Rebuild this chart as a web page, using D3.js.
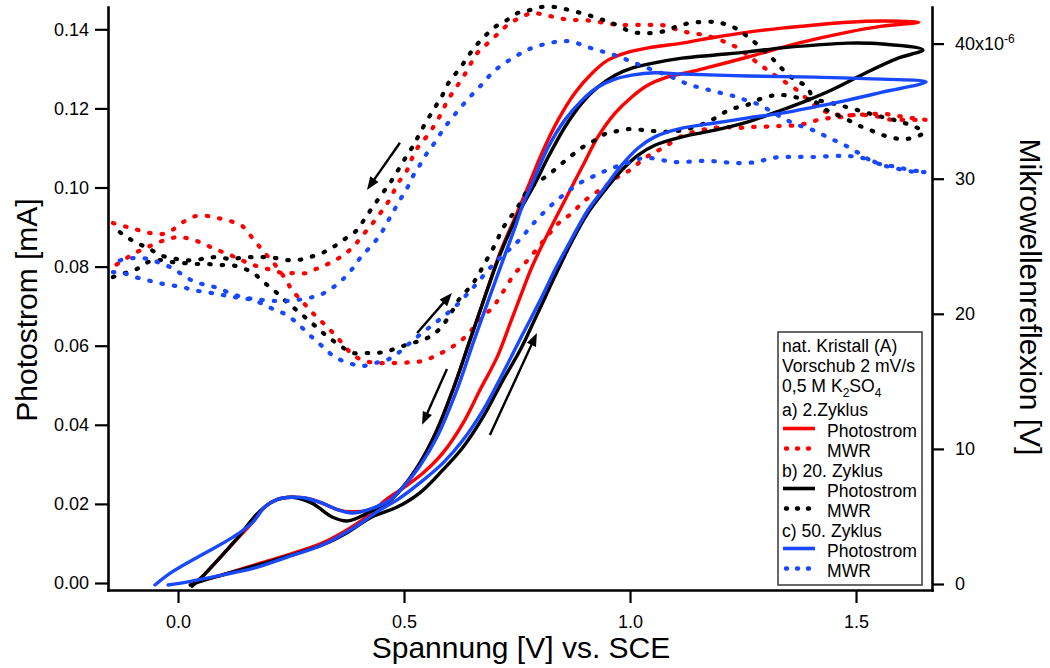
<!DOCTYPE html>
<html>
<head>
<meta charset="utf-8">
<script src="https://cdn.jsdelivr.net/npm/d3@7"></script>
<style>
  html, body { margin: 0; padding: 0; background: #fff; }
  svg { display: block; }
  text { font-family: "Liberation Sans", Arial, Helvetica, sans-serif; fill: #000; }
</style>
</head>
<body>
<svg id="chart" width="1050" height="668"></svg>
<script>
// ---- Photostrom [mA] vs. Spannung [V]: one closed scan per cycle (forward, then back) ----
const photoZ2 = [
  [0.029,0.0000],[0.097,0.0020],[0.170,0.0046],[0.243,0.0071],[0.319,0.0101],[0.369,0.0131],[0.407,0.0159],[0.436,0.0187],[0.462,0.0212],[0.498,0.0240],[0.542,0.0278],[0.586,0.0329],[0.631,0.0405],[0.668,0.0488],[0.706,0.0571],[0.735,0.0657],[0.763,0.0741],[0.783,0.0799],[0.819,0.0885],[0.856,0.0968],[0.894,0.1052],[0.929,0.1128],[0.967,0.1188],[1.004,0.1229],[1.040,0.1259],[1.077,0.1277],[1.150,0.1297],[1.261,0.1330],[1.372,0.1365],[1.482,0.1393],[1.558,0.1408],[1.639,0.1418],
  [1.558,0.1421],[1.482,0.1418],[1.409,0.1411],[1.336,0.1403],[1.261,0.1393],[1.188,0.1380],[1.115,0.1365],[1.040,0.1353],[0.989,0.1340],[0.951,0.1322],[0.916,0.1289],[0.878,0.1239],[0.841,0.1171],[0.805,0.1087],[0.774,0.1001],[0.746,0.0925],[0.712,0.0834],[0.684,0.0741],[0.646,0.0614],[0.608,0.0488],[0.573,0.0387],[0.535,0.0303],[0.498,0.0243],[0.462,0.0202],[0.425,0.0185],[0.385,0.0180],[0.354,0.0185],[0.319,0.0202],[0.281,0.0215],[0.252,0.0217],[0.221,0.0212],[0.192,0.0192],[0.164,0.0152],[0.133,0.0114],[0.088,0.0058],[0.053,0.0015],[0.031,-0.0005]
];
const photoZ20 = [
  [0.027,-0.0005],[0.060,0.0008],[0.097,0.0020],[0.170,0.0043],[0.243,0.0068],[0.319,0.0096],[0.369,0.0124],[0.429,0.0167],[0.485,0.0192],[0.535,0.0228],[0.586,0.0286],[0.631,0.0344],[0.675,0.0420],[0.719,0.0513],[0.757,0.0589],[0.790,0.0668],[0.812,0.0722],[0.834,0.0776],[0.872,0.0865],[0.907,0.0936],[0.945,0.0994],[0.982,0.1044],[1.018,0.1082],[1.055,0.1107],[1.115,0.1128],[1.188,0.1145],[1.261,0.1166],[1.336,0.1196],[1.394,0.1221],[1.447,0.1247],[1.520,0.1289],[1.593,0.1327],[1.648,0.1348],
  [1.558,0.1363],[1.482,0.1365],[1.409,0.1360],[1.336,0.1353],[1.261,0.1343],[1.188,0.1335],[1.115,0.1327],[1.040,0.1312],[1.004,0.1302],[0.967,0.1284],[0.929,0.1254],[0.894,0.1214],[0.856,0.1153],[0.819,0.1077],[0.790,0.1011],[0.761,0.0951],[0.746,0.0918],[0.712,0.0829],[0.684,0.0741],[0.646,0.0614],[0.608,0.0488],[0.573,0.0387],[0.535,0.0303],[0.498,0.0243],[0.462,0.0202],[0.425,0.0180],[0.376,0.0157],[0.341,0.0167],[0.296,0.0202],[0.252,0.0217],[0.208,0.0205],[0.177,0.0177],[0.133,0.0116],[0.088,0.0058],[0.053,0.0015],[0.031,-0.0008]
];
const photoZ50 = [
  [-0.022,-0.0005],[0.022,0.0003],[0.097,0.0020],[0.170,0.0038],[0.243,0.0066],[0.319,0.0096],[0.392,0.0142],[0.440,0.0180],[0.485,0.0210],[0.535,0.0253],[0.586,0.0303],[0.631,0.0362],[0.675,0.0437],[0.719,0.0531],[0.763,0.0630],[0.801,0.0714],[0.834,0.0792],[0.872,0.0873],[0.907,0.0943],[0.945,0.1001],[0.982,0.1057],[1.018,0.1100],[1.055,0.1128],[1.115,0.1150],[1.188,0.1163],[1.261,0.1176],[1.336,0.1188],[1.409,0.1204],[1.482,0.1221],[1.558,0.1241],[1.655,0.1267],
  [1.558,0.1274],[1.409,0.1279],[1.261,0.1282],[1.115,0.1287],[1.055,0.1290],[1.004,0.1284],[0.967,0.1274],[0.929,0.1254],[0.894,0.1221],[0.856,0.1171],[0.819,0.1102],[0.790,0.1027],[0.761,0.0951],[0.746,0.0900],[0.723,0.0829],[0.695,0.0741],[0.653,0.0607],[0.617,0.0488],[0.573,0.0369],[0.535,0.0296],[0.502,0.0248],[0.469,0.0210],[0.420,0.0185],[0.385,0.0177],[0.354,0.0185],[0.319,0.0202],[0.281,0.0215],[0.252,0.0217],[0.221,0.0212],[0.192,0.0192],[0.164,0.0152],[0.119,0.0114],[0.060,0.0076],[-0.013,0.0028],[-0.051,-0.0005]
];

// ---- Mikrowellenreflexion (x10^-6) vs. Spannung [V] ----
const mwrZ2 = [
  [-0.144,26.72],[-0.113,26.43],[-0.088,26.20],[-0.062,25.98],[-0.035,25.91],[-0.013,26.20],[0.015,26.87],[0.040,27.24],[0.064,27.24],[0.088,27.09],[0.115,26.87],[0.142,26.50],[0.168,25.46],[0.192,24.50],[0.217,23.54],[0.239,22.50],[0.252,21.76],[0.274,20.95],[0.296,20.13],[0.321,19.32],[0.343,18.58],[0.363,17.84],[0.387,16.95],[0.414,16.51],[0.440,16.36],[0.465,16.36],[0.491,16.36],[0.518,16.43],[0.542,16.51],[0.569,16.88],[0.595,17.32],[0.622,17.91],[0.646,18.65],[0.668,19.62],[0.695,20.43],[0.712,21.24],[0.746,23.02],[0.768,23.76],[0.794,24.80],[0.819,25.83],[0.845,26.80],[0.872,27.46],[0.896,28.28],[0.923,28.94],[0.949,29.53],[0.973,30.13],[1.000,30.64],[1.027,31.38],[1.051,31.90],[1.077,32.35],[1.106,33.01],[1.133,33.38],[1.159,33.61],[1.184,33.75],[1.210,33.83],[1.237,33.75],[1.261,33.83],[1.292,33.83],[1.317,33.90],[1.343,33.90],[1.369,33.97],[1.394,34.12],[1.416,34.35],[1.442,34.49],[1.469,34.57],[1.493,34.71],[1.520,34.71],[1.553,34.57],[1.580,34.35],[1.604,34.35],[1.631,34.35],[1.655,34.35],
  [1.624,34.49],[1.593,34.64],[1.564,34.79],[1.531,34.79],[1.500,34.71],[1.469,34.71],[1.442,34.86],[1.416,35.23],[1.394,35.83],[1.369,36.57],[1.343,37.16],[1.316,37.75],[1.292,38.34],[1.265,39.01],[1.239,39.67],[1.215,40.05],[1.188,40.41],[1.162,40.64],[1.137,40.79],[1.111,40.93],[1.084,41.30],[1.060,41.38],[1.033,41.38],[1.004,41.38],[0.973,41.38],[0.945,41.53],[0.918,41.67],[0.894,41.75],[0.867,41.75],[0.841,41.90],[0.812,42.12],[0.783,42.27],[0.761,41.97],[0.735,41.53],[0.712,40.86],[0.686,40.05],[0.662,39.30],[0.646,38.42],[0.631,37.53],[0.613,36.64],[0.597,35.83],[0.584,34.94],[0.569,34.05],[0.551,33.16],[0.531,32.35],[0.518,31.53],[0.507,30.64],[0.487,29.68],[0.469,28.50],[0.451,27.61],[0.431,26.72],[0.409,25.83],[0.387,24.94],[0.363,24.28],[0.336,23.76],[0.310,23.39],[0.285,23.02],[0.259,23.02],[0.232,23.02],[0.208,23.24],[0.181,23.46],[0.155,23.76],[0.131,24.13],[0.104,24.50],[0.077,24.87],[0.053,25.24],[0.027,25.54],[0.000,25.68],[-0.029,25.46],[-0.062,25.02],[-0.091,24.57],[-0.117,24.06],[-0.144,23.46]
];
const mwrZ20 = [
  [-0.144,22.72],[-0.117,23.02],[-0.091,23.32],[-0.066,23.83],[-0.040,23.98],[-0.013,23.83],[0.011,23.76],[0.038,23.69],[0.064,23.69],[0.088,23.61],[0.115,23.61],[0.137,23.46],[0.166,23.02],[0.192,22.28],[0.219,21.54],[0.243,20.80],[0.270,20.06],[0.296,19.32],[0.321,18.58],[0.341,18.06],[0.363,17.54],[0.387,17.10],[0.414,17.10],[0.440,17.10],[0.465,17.25],[0.491,17.54],[0.518,17.84],[0.542,18.06],[0.569,18.58],[0.591,19.39],[0.608,20.28],[0.624,21.17],[0.650,22.13],[0.664,22.87],[0.679,23.76],[0.701,25.09],[0.719,26.35],[0.739,27.31],[0.757,28.20],[0.774,29.16],[0.796,29.76],[0.819,30.27],[0.845,31.01],[0.872,31.75],[0.896,32.35],[0.923,32.86],[0.949,33.38],[0.973,33.53],[1.000,33.68],[1.027,33.61],[1.051,33.53],[1.077,33.46],[1.104,33.53],[1.128,33.68],[1.155,33.97],[1.181,34.35],[1.206,34.86],[1.232,35.23],[1.259,35.46],[1.283,35.83],[1.310,36.12],[1.336,36.20],[1.376,35.97],[1.434,35.68],[1.487,35.23],[1.542,34.71],[1.593,34.27],[1.631,33.83],[1.650,33.46],
  [1.633,33.09],[1.608,32.94],[1.582,33.01],[1.558,33.24],[1.531,33.61],[1.504,33.97],[1.478,34.42],[1.453,34.79],[1.427,35.23],[1.405,35.90],[1.392,36.79],[1.365,37.31],[1.339,38.05],[1.314,38.93],[1.288,39.75],[1.261,40.49],[1.237,41.08],[1.210,41.45],[1.188,41.60],[1.159,41.60],[1.133,41.53],[1.106,41.30],[1.084,41.01],[1.055,40.79],[1.027,40.79],[1.004,40.86],[0.960,41.53],[0.934,41.82],[0.907,42.12],[0.883,42.34],[0.856,42.56],[0.834,42.71],[0.805,42.71],[0.779,42.49],[0.752,42.27],[0.728,41.75],[0.701,41.23],[0.675,40.41],[0.653,39.60],[0.635,38.71],[0.617,37.90],[0.597,37.01],[0.584,36.12],[0.569,35.31],[0.553,34.42],[0.535,33.38],[0.524,32.64],[0.507,31.75],[0.487,30.64],[0.469,29.68],[0.451,28.87],[0.431,27.91],[0.414,27.09],[0.396,26.20],[0.369,25.54],[0.343,24.94],[0.319,24.50],[0.292,24.20],[0.265,23.98],[0.241,23.98],[0.215,24.13],[0.188,24.20],[0.164,24.20],[0.137,24.13],[0.115,24.06],[0.088,24.20],[0.064,24.13],[0.038,23.98],[0.011,23.98],[-0.013,24.13],[-0.040,24.35],[-0.066,24.87],[-0.091,25.24],[-0.117,25.76],[-0.144,26.43]
];
const mwrZ50 = [
  [-0.144,23.09],[-0.122,23.02],[-0.095,22.72],[-0.069,22.50],[-0.044,22.28],[-0.018,22.13],[0.009,21.98],[0.033,21.76],[0.060,21.61],[0.086,21.47],[0.111,21.32],[0.137,21.17],[0.166,21.02],[0.192,20.65],[0.215,20.28],[0.241,19.91],[0.270,19.10],[0.296,18.28],[0.321,17.54],[0.347,16.80],[0.385,16.28],[0.409,16.14],[0.436,16.36],[0.462,16.58],[0.487,17.10],[0.513,17.84],[0.540,18.58],[0.569,19.32],[0.591,19.91],[0.617,20.65],[0.642,21.54],[0.662,22.28],[0.686,23.24],[0.712,24.13],[0.739,24.94],[0.761,25.68],[0.783,26.57],[0.808,27.46],[0.834,28.28],[0.861,29.02],[0.889,29.68],[0.916,30.13],[0.940,30.50],[0.967,30.87],[0.993,31.16],[1.018,31.46],[1.044,31.53],[1.071,31.38],[1.095,31.24],[1.122,31.24],[1.150,31.31],[1.177,31.31],[1.204,31.24],[1.228,31.16],[1.254,31.16],[1.281,31.24],[1.305,31.46],[1.332,31.61],[1.358,31.61],[1.383,31.61],[1.409,31.61],[1.453,31.68],[1.480,31.68],[1.504,31.61],[1.531,31.38],[1.558,31.01],[1.586,30.79],[1.613,30.57],[1.637,30.50],[1.655,30.50],
  [1.619,30.64],[1.591,30.87],[1.564,31.01],[1.538,31.24],[1.513,31.75],[1.487,32.27],[1.460,32.72],[1.436,33.09],[1.414,33.46],[1.392,33.75],[1.365,34.05],[1.339,34.49],[1.314,34.94],[1.288,35.46],[1.261,35.75],[1.237,36.05],[1.210,36.27],[1.184,36.49],[1.159,36.71],[1.133,36.94],[1.106,37.31],[1.082,37.68],[1.055,37.97],[1.029,38.34],[1.004,38.64],[0.978,39.01],[0.951,39.30],[0.927,39.53],[0.900,39.82],[0.874,40.12],[0.850,40.19],[0.823,40.05],[0.796,39.82],[0.772,39.53],[0.752,39.16],[0.723,38.56],[0.697,37.90],[0.675,37.08],[0.650,36.20],[0.628,35.38],[0.606,34.49],[0.586,33.61],[0.569,32.72],[0.551,31.90],[0.535,31.01],[0.520,30.20],[0.507,29.31],[0.491,28.42],[0.476,27.54],[0.462,26.72],[0.447,25.83],[0.425,24.94],[0.403,24.13],[0.387,23.39],[0.363,22.50],[0.341,21.91],[0.314,21.39],[0.288,21.17],[0.263,21.02],[0.237,20.95],[0.215,20.95],[0.188,21.02],[0.166,21.10],[0.142,21.24],[0.115,21.54],[0.088,21.91],[0.064,22.13],[0.038,22.35],[0.011,22.87],[-0.013,23.39],[-0.040,23.76],[-0.066,24.06],[-0.091,24.13],[-0.117,24.06],[-0.144,23.76]
];

// scan-direction arrows: [V start, mA start, V end, mA end]
const scanArrows = [
  [0.491, 0.1113, 0.418, 0.0994],
  [0.529, 0.0632, 0.606, 0.0733],
  [0.595, 0.0541, 0.540, 0.0400],
  [0.690, 0.0374, 0.794, 0.0632]
];

// tick values
const xTicks = [0, 0.5, 1.0, 1.5];
const leftTicks = [0, 0.02, 0.04, 0.06, 0.08, 0.10, 0.12, 0.14];
const rightTicks = [0, 10, 20, 30, 40];

// legend rows
const legendHeader = ["nat. Kristall (A)", "Vorschub 2 mV/s"];
const legendCycles = ["a) 2.Zyklus", "b) 20. Zyklus", "c) 50. Zyklus"];
const legendSeries = ["Photostrom", "MWR"];
const cycleColors = ["#ff0000", "#000000", "#1848ff"];

const svg = d3.select("#chart");
const FONT = '"Liberation Sans", Arial, Helvetica, sans-serif';

const x = d3.scaleLinear().domain([-0.1549, 1.6681]).range([108, 932]);
const yL = d3.scaleLinear().domain([-0.00177, 0.14564]).range([590, 7]);
const yR = d3.scaleLinear().domain([-0.444, 42.71]).range([590, 7]);

const curve = d3.curveCatmullRom.alpha(0.5);
const linePhoto = d3.line().x(d => x(d[0])).y(d => yL(d[1])).curve(curve);
const lineMwr = d3.line().x(d => x(d[0])).y(d => yR(d[1])).curve(curve);

const plot = svg.append("g");
const traces = [
  { data: photoZ2, line: linePhoto, color: cycleColors[0], dotted: false },
  { data: mwrZ2, line: lineMwr, color: cycleColors[0], dotted: true },
  { data: photoZ20, line: linePhoto, color: cycleColors[1], dotted: false },
  { data: mwrZ20, line: lineMwr, color: cycleColors[1], dotted: true },
  { data: photoZ50, line: linePhoto, color: cycleColors[2], dotted: false },
  { data: mwrZ50, line: lineMwr, color: cycleColors[2], dotted: true }
];
traces.forEach(t => {
  const p = plot.append("path")
    .attr("d", t.line(t.data))
    .attr("fill", "none")
    .attr("stroke", t.color)
    .attr("stroke-linejoin", "round");
  if (t.dotted) {
    p.attr("stroke-width", 4.2).attr("stroke-dasharray", "1.5,11").attr("stroke-linecap", "round");
  } else {
    p.attr("stroke-width", 3.4).attr("stroke-linecap", "round");
  }
});

// arrows
const arrowG = svg.append("g");
scanArrows.forEach(a => {
  const x0 = x(a[0]), y0 = yL(a[1]), x1 = x(a[2]), y1 = yL(a[3]);
  const dx = x1 - x0, dy = y1 - y0, len = Math.hypot(dx, dy);
  const ux = dx / len, uy = dy / len;
  const hl = 13, hw = 5;
  const bx = x1 - ux * hl, by = y1 - uy * hl;
  arrowG.append("line")
    .attr("x1", x0).attr("y1", y0).attr("x2", bx + ux * 2).attr("y2", by + uy * 2)
    .attr("stroke", "#000").attr("stroke-width", 2.4);
  arrowG.append("path")
    .attr("d", `M${x1},${y1}L${bx - uy * hw},${by + ux * hw}L${bx + uy * hw},${by - ux * hw}Z`)
    .attr("fill", "#000");
});

// axes
function styleAxis(g) {
  g.select(".domain").attr("stroke-width", 2.6).attr("stroke-linecap", "square");
  g.selectAll(".tick line").attr("stroke-width", 2.2);
  g.selectAll(".tick text").attr("font-size", 18).attr("font-family", FONT).attr("fill", "#000");
}

const gLeft = svg.append("g").attr("transform", "translate(108,0)")
  .call(d3.axisLeft(yL).tickValues(leftTicks).tickSize(13).tickSizeOuter(0).tickPadding(6).tickFormat(d3.format(".2f")));
styleAxis(gLeft);

const gBottom = svg.append("g").attr("transform", "translate(0,590)")
  .call(d3.axisBottom(x).tickValues(xTicks).tickSize(13).tickSizeOuter(0).tickPadding(12).tickFormat(d3.format(".1f")));
styleAxis(gBottom);

const gRight = svg.append("g").attr("transform", "translate(932,0)")
  .call(d3.axisRight(yR).tickValues(rightTicks).tickSize(12).tickSizeOuter(0).tickPadding(11).tickFormat(d3.format("d")));
styleAxis(gRight);
gRight.selectAll(".tick text").filter(d => d === 40).each(function () {
  const t = d3.select(this);
  t.text("40x10");
  t.append("tspan").attr("font-size", 12).attr("dy", "-0.55em").text("-6");
});

// axis titles
svg.append("text")
  .attr("transform", "translate(37,310) rotate(-90)")
  .attr("text-anchor", "middle").attr("font-size", 30)
  .text("Photostrom [mA]");
svg.append("text")
  .attr("x", 521).attr("y", 658)
  .attr("text-anchor", "middle").attr("font-size", 30)
  .text("Spannung [V] vs. SCE");
svg.append("text")
  .attr("transform", "translate(1020,297) rotate(90)")
  .attr("text-anchor", "middle").attr("font-size", 30)
  .text("Mikrowellenreflexion [V]");

// legend
const lg = svg.append("g");
lg.append("rect")
  .attr("x", 778).attr("y", 332).attr("width", 144).attr("height", 253)
  .attr("fill", "#fff").attr("stroke", "#444").attr("stroke-width", 1.6);
const LFS = 17.6, lx = 782, sx0 = 783, sx1 = 815, tx = 827;
const base = [352, 372, 392, 415.5, 436.5, 456.5, 476.5, 496.5, 516.5, 536.5, 556.5, 576.5];
legendHeader.forEach((s, i) => {
  lg.append("text").attr("x", lx).attr("y", base[i]).attr("font-size", LFS).text(s);
});
const salt = lg.append("text").attr("x", lx).attr("y", base[2]).attr("font-size", LFS);
salt.append("tspan").text("0,5 M K");
salt.append("tspan").attr("font-size", 12).attr("dy", 5).text("2");
salt.append("tspan").attr("dy", -5).text("SO");
salt.append("tspan").attr("font-size", 12).attr("dy", 5).text("4");
legendCycles.forEach((c, k) => {
  const r = 3 + k * 3;
  lg.append("text").attr("x", lx).attr("y", base[r]).attr("font-size", LFS).text(c);
  legendSeries.forEach((s, j) => {
    const yy = base[r + 1 + j];
    const ln = lg.append("line")
      .attr("y1", yy - 8).attr("y2", yy - 8)
      .attr("stroke", cycleColors[k]);
    if (j === 0) {
      ln.attr("x1", sx0).attr("x2", sx1).attr("stroke-width", 3.6);
    } else {
      ln.attr("x1", sx0 + 3).attr("x2", sx1 - 4).attr("stroke-width", 4.4)
        .attr("stroke-dasharray", "1,10").attr("stroke-linecap", "round");
    }
    lg.append("text").attr("x", tx).attr("y", yy).attr("font-size", LFS).text(s);
  });
});
</script>
</body>
</html>
